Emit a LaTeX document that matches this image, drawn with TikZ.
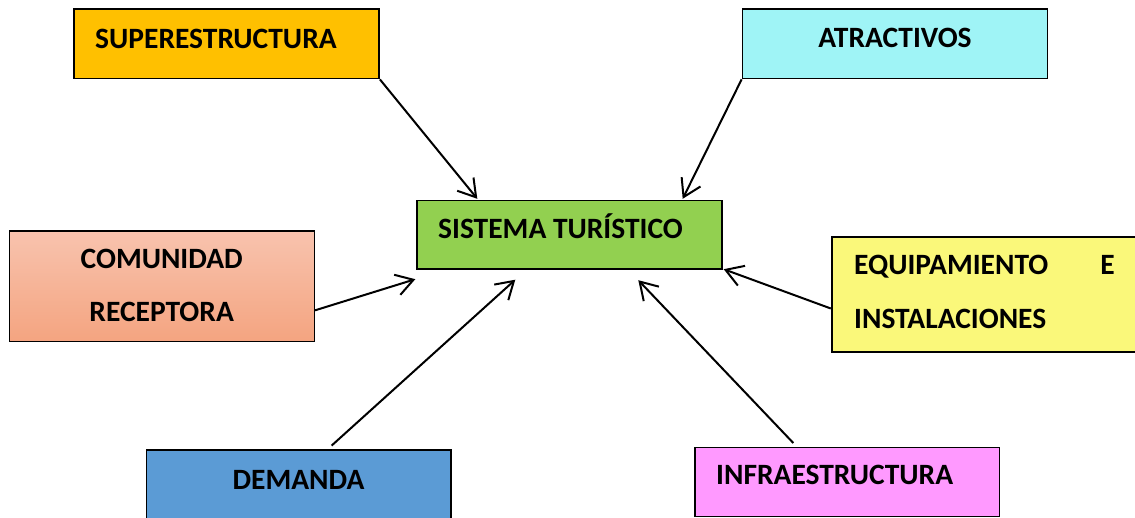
\documentclass[tikz,border=0pt]{standalone}
\usepackage{fontspec}
\setmainfont{Carlito}
\usetikzlibrary{arrows.meta,calc}
\definecolor{csup}{HTML}{FFC000}
\definecolor{catr}{HTML}{9FF4F6}
\definecolor{csys}{HTML}{92D050}
\definecolor{ccomtop}{HTML}{F8C3AE}
\definecolor{ccombot}{HTML}{F4A480}
\definecolor{cequ}{HTML}{FAF87A}
\definecolor{cdem}{HTML}{5B9BD5}
\definecolor{cinf}{HTML}{FF99FF}
\begin{document}
\begin{tikzpicture}[x=1pt,y=-1pt,
  box/.style={draw=black,line width=1.8pt,rectangle,inner sep=0pt},
  lbl/.style={inner sep=0pt,font=\fontsize{29.5}{35}\selectfont\bfseries},
  conn/.style={line width=2pt,-{Straight Barb[length=17pt,width=21pt,line width=2pt]}}]
\useasboundingbox (0,0) rectangle (1135,518);
\clip (0,0) rectangle (1135,518);
\fill[white] (0,0) rectangle (1135,518);
% boxes
\node[box,fill=csup,minimum width=305pt,minimum height=69.5pt] (sup) at (226.5,43.75) {};
\node[box,fill=catr,minimum width=305pt,minimum height=69.5pt] (atr) at (895,43.75) {};
\node[box,fill=csys,line width=1.4pt,minimum width=305pt,minimum height=68.5pt] (sys) at (569.5,234.75) {};
\node[box,top color=ccomtop,bottom color=ccombot,line width=1.4pt,minimum width=305pt,minimum height=110.7pt] (com) at (161.8,286.35) {};
\node[box,fill=cequ,minimum width=305pt,minimum height=115.6pt] (equ) at (984.2,294.5) {};
\node[box,fill=cdem,minimum width=304.5pt,minimum height=71pt] (dem) at (298.75,485.5) {};
\node[box,fill=cinf,line width=1.4pt,minimum width=304.5pt,minimum height=69pt] (inf) at (847.25,482.2) {};
% labels
\node[lbl,anchor=base west] (supT) at (95,48.3) {SUPERESTRUCTURA};
\node[lbl,anchor=base] (atrT) at (895,47.7) {ATRACTIVOS};
\node[lbl,anchor=base west] (sysT) at (438,238.3) {SISTEMA TURÍSTICO};
\node[lbl,anchor=base] (comT1) at (161.7,268.3) {COMUNIDAD};
\node[lbl,anchor=base] (comT2) at (161.7,321.7) {RECEPTORA};
\node[lbl,anchor=base west] (equT1) at (854,275) {EQUIPAMIENTO};
\node[lbl,anchor=base east] (equT2) at (1115,275) {E};
\node[lbl,anchor=base west] (equT3) at (854,328.3) {INSTALACIONES};
\node[lbl,anchor=base] (demT) at (298.5,489.3) {DEMANDA};
\node[lbl,anchor=base west] (infT) at (716,484.3) {INFRAESTRUCTURA};
% connectors
\draw[conn] (sup.south east) -- ($(sys.north west)+(61,-1)$);
\draw[conn] (atr.south west) -- ($(sys.north east)+(-40,-1)$);
\draw[conn] ($(com.east)+(0,24)$) -- ($(sys.south west)+(-1,9.5)$);
\draw[conn] ($(equ.west)+(0,14)$) -- ($(sys.south east)+(1,-0.5)$);
\draw[conn] ($(dem.north west)+(186,-3.5)$) -- ($(sys.south west)+(99,10)$);
\draw[conn] ($(inf.north west)+(99,-4)$) -- ($(sys.south west)+(222,10.5)$);
\end{tikzpicture}
\end{document}
